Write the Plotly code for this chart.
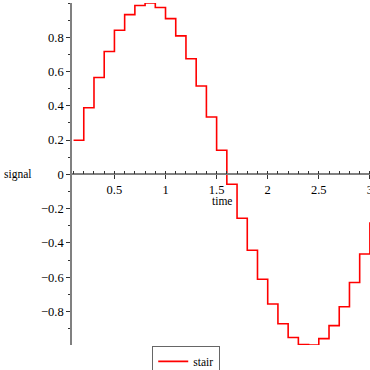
import plotly.graph_objects as go

time_vals = [0.1, 0.2, 0.3, 0.4, 0.5, 0.6, 0.7, 0.8, 0.9, 1.0,
             1.1, 1.2, 1.3, 1.4, 1.5, 1.6, 1.7, 1.8, 1.9, 2.0,
             2.1, 2.2, 2.3, 2.4, 2.5, 2.6, 2.7, 2.8, 2.9, 3.0]
signal_vals = [0.199, 0.389, 0.565, 0.717, 0.841, 0.932, 0.985, 1.000, 0.974, 0.909,
               0.808, 0.675, 0.516, 0.335, 0.141, -0.058, -0.256, -0.443, -0.612, -0.757,
               -0.872, -0.952, -0.994, -0.996, -0.959, -0.883, -0.773, -0.631, -0.465, -0.279]
x_ticks = [0.5, 1, 1.5, 2, 2.5, 3]
x_tick_labels = ["0.5", "1", "1.5", "2", "2.5", "3"]
y_ticks = [-0.8, -0.6, -0.4, -0.2, 0, 0.2, 0.4, 0.6, 0.8]
y_tick_labels = ["\u22120.8", "\u22120.6", "\u22120.4", "\u22120.2", "0", "0.2", "0.4", "0.6", "0.8"]

FONT = "Liberation Serif"
ymin, ymax = min(signal_vals), max(signal_vals)
xmin, xmax = 0.075, 3.001

fig = go.Figure()
fig.add_trace(go.Scatter(x=time_vals, y=signal_vals, mode="lines", name="stair",
                         line=dict(color="#ff0000", width=1.6, shape="hv")))

axis_common = dict(showgrid=False, zeroline=False, showline=True, linecolor="#808080",
                   linewidth=1.6, tickcolor="#333333", tickwidth=1,
                   ticklabeloverflow="allow",
                   tickfont=dict(family=FONT, size=12.5, color="#000000"))

fig.update_layout(
    width=370, height=370,
    margin=dict(l=71, r=0, t=3, b=25, autoexpand=False),
    paper_bgcolor="white", plot_bgcolor="white",
    font=dict(family=FONT, size=12, color="#000000"),
    xaxis=dict(range=[xmin, xmax], anchor="free", position=(0 - ymin) / (ymax - ymin),
               tickvals=x_ticks, ticktext=x_tick_labels, ticks="outside", ticklen=4,
               minor=dict(dtick=0.1, tick0=0, ticks="inside", ticklen=3, tickcolor="#333333"),
               **axis_common),
    yaxis=dict(range=[ymin, ymax], anchor="free", position=0,
               tickvals=y_ticks, ticktext=y_tick_labels, ticks="outside", ticklen=4,
               minor=dict(dtick=0.1, tick0=0, ticks="outside", ticklen=2, tickcolor="#333333"),
               **axis_common),
    showlegend=True,
    legend=dict(x=0.271, y=-0.002, xanchor="left", yanchor="top", orientation="h",
                bordercolor="#666666", borderwidth=1.2, bgcolor="white",
                font=dict(family=FONT, size=11.5)),
    annotations=[
        dict(text="signal", xref="paper", yref="y", x=-0.231, y=0, xanchor="left",
             yanchor="middle", showarrow=False, font=dict(family=FONT, size=11.5)),
        dict(text="time", xref="x", yref="y", x=1.552, y=-0.158, xanchor="center",
             yanchor="middle", showarrow=False, font=dict(family=FONT, size=11.5)),
    ],
)

fig.write_html("out.html", config={"displayModeBar": False},
               post_script="document.body.style.margin='0';document.body.style.overflow='hidden';")
